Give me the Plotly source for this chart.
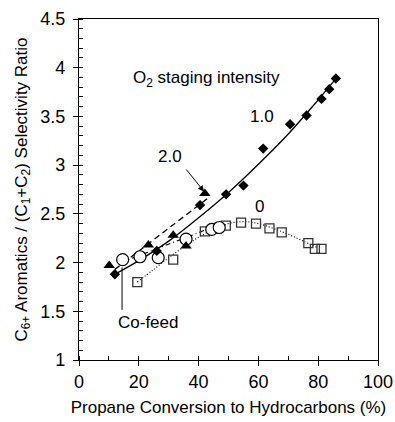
import plotly.graph_objects as go

# ---- data ----
# O2 staging intensity 1.0 (filled diamonds)
d1_x = [12.0, 26.0, 40.5, 49.2, 55.0, 61.6, 70.6, 76.1, 81.1, 83.7, 85.9]
d1_y = [1.88, 2.12, 2.59, 2.70, 2.79, 3.17, 3.42, 3.51, 3.68, 3.78, 3.89]
# O2 staging intensity 2.0 (filled triangles)
d2_x = [10.1, 23.2, 31.5, 35.8, 42.1]
d2_y = [1.97, 2.18, 2.28, 2.17, 2.71]
# Co-feed (open circles)
cf_x = [14.6, 20.4, 26.5, 35.8, 44.4, 46.9]
cf_y = [2.03, 2.06, 2.05, 2.24, 2.34, 2.36]
# O2 staging intensity 0 (open squares)
d0_x = [19.5, 31.5, 42.1, 49.1, 54.2, 59.2, 63.7, 67.8, 76.7, 78.9, 81.1]
d0_y = [1.80, 2.03, 2.32, 2.38, 2.41, 2.40, 2.35, 2.31, 2.20, 2.14, 2.14]

# trend lines as drawn in the picture
t1_x = [12, 20, 30, 40, 50, 60, 70, 80, 86]
t1_y = [1.88, 2.02, 2.22, 2.46, 2.72, 3.01, 3.32, 3.67, 3.89]
t2_x = [12, 43.5]
t2_y = [1.93, 2.67]
tc_x = [14, 47]
tc_y = [2.00, 2.39]
t0_x = [19.5, 25, 30, 35, 40, 45, 50, 55, 60, 65, 70, 75, 80]
t0_y = [1.80, 1.93, 2.05, 2.16, 2.26, 2.34, 2.40, 2.42, 2.40, 2.35, 2.29, 2.22, 2.15]

FONT = "Liberation Sans, Arial, sans-serif"

fig = go.Figure()
fig.add_trace(go.Scatter(x=t1_x, y=t1_y, mode="lines", line=dict(color="black", width=1.3, shape="spline")))
fig.add_trace(go.Scatter(x=t2_x, y=t2_y, mode="lines", line=dict(color="black", width=1.3, dash="6px,4px")))
fig.add_trace(go.Scatter(x=tc_x, y=tc_y, mode="lines", line=dict(color="black", width=1.1, dash="5px,3px,1px,3px")))
fig.add_trace(go.Scatter(x=t0_x, y=t0_y, mode="lines", line=dict(color="black", width=1.1, dash="1px,2px", shape="spline")))

fig.add_trace(go.Scatter(x=d0_x, y=d0_y, mode="markers",
                         marker=dict(symbol="square-open", size=9, color="#333", line=dict(width=1.3))))
fig.add_trace(go.Scatter(x=cf_x, y=cf_y, mode="markers",
                         marker=dict(symbol="circle", size=12, color="white", line=dict(color="black", width=1.2))))
fig.add_trace(go.Scatter(x=d2_x, y=d2_y, mode="markers",
                         marker=dict(symbol="triangle-up", size=10, color="black")))
fig.add_trace(go.Scatter(x=d1_x, y=d1_y, mode="markers",
                         marker=dict(symbol="diamond", size=8, color="black")))

ann_font = dict(family=FONT, size=17, color="black")
fig.add_annotation(x=42.8, y=3.88, text="O<sub>2</sub> staging intensity", showarrow=False, font=ann_font)
fig.add_annotation(x=61.2, y=3.50, text="1.0", showarrow=False, font=ann_font)
fig.add_annotation(x=30.4, y=3.09, text="2.0", showarrow=False, font=ann_font)
fig.add_annotation(x=60.5, y=2.58, text="0", showarrow=False, font=ann_font)
fig.add_annotation(x=23.1, y=1.39, text="Co-feed", showarrow=False, font=ann_font)
# arrow from "2.0" label
fig.add_annotation(x=41.8, y=2.73, ax=35.5, ay=2.97, axref="x", ayref="y", xref="x", yref="y",
                   text="", showarrow=True, arrowhead=2, arrowsize=1.2, arrowwidth=1, arrowcolor="black")
# pointer for "Co-feed"
fig.add_annotation(x=14.4, y=1.95, ax=14.4, ay=1.50, axref="x", ayref="y", xref="x", yref="y",
                   text="", showarrow=True, arrowhead=0, arrowwidth=1, arrowcolor="black")

axis_common = dict(showline=True, linecolor="black", linewidth=1.3, mirror=True,
                   showgrid=False, zeroline=False, ticks="outside", ticklen=5,
                   tickcolor="black", tickfont=dict(family=FONT, size=18, color="black"))

fig.update_xaxes(range=[0, 100], tick0=0, dtick=20,
                 minor=dict(dtick=10, ticks="inside", ticklen=4, tickcolor="black"),
                 title=dict(text="Propane Conversion to Hydrocarbons (%)",
                            font=dict(family=FONT, size=17, color="black"), standoff=10),
                 **axis_common)
fig.update_yaxes(range=[1, 4.5], tick0=1, dtick=0.5,
                 minor=dict(dtick=0.1, ticks="inside", ticklen=4, tickcolor="black"),
                 ticklabelstandoff=4,
                 title=dict(text="C<sub>6+</sub> Aromatics / (C<sub>1</sub>+C<sub>2</sub>) Selectivity Ratio",
                            font=dict(family=FONT, size=17, color="black"), standoff=8),
                 **axis_common)

fig.update_layout(width=395, height=422, showlegend=False,
                  margin=dict(l=79, r=17, t=19, b=62, autoexpand=False),
                  plot_bgcolor="white", paper_bgcolor="white")

fig.write_html("out.html")
